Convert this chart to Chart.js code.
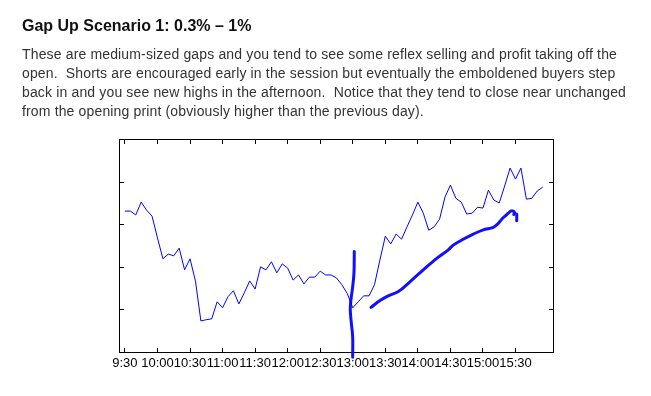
<!DOCTYPE html>
<html><head><meta charset="utf-8">
<script src="https://cdn.jsdelivr.net/npm/chart.js@4"></script>
<style>
html,body{margin:0;padding:0;background:#fff;width:651px;height:396px;overflow:hidden;}
#c{position:absolute;left:0;top:0;}
.h{position:absolute;left:22px;top:18px;font:bold 16px/16px "Liberation Sans",Arial,sans-serif;color:#111;white-space:pre;}
.p{position:absolute;left:22px;top:44.5px;font:14px/19.3px "Liberation Sans",Arial,sans-serif;letter-spacing:0.15px;color:#333;white-space:pre;}
</style></head><body>
<canvas id="c" width="651" height="396"></canvas>
<div class="h">Gap Up Scenario 1: 0.3% – 1%</div>
<div class="p">These are medium-sized gaps and you tend to see some reflex selling and profit taking off the
open.  Shorts are encouraged early in the session but eventually the emboldened buyers step
back in and you see new highs in the afternoon.  Notice that they tend to close near unchanged
from the opening print (obviously higher than the previous day).</div>
<script>
const times = [
 "9:30","9:35","9:40","9:45","9:50","9:55",
 "10:00","10:05","10:10","10:15","10:20","10:25","10:30","10:35","10:40","10:45","10:50","10:55",
 "11:00","11:05","11:10","11:15","11:20","11:25","11:30","11:35","11:40","11:45","11:50","11:55",
 "12:00","12:05","12:10","12:15","12:20","12:25","12:30","12:35","12:40","12:45","12:50","12:55",
 "13:00","13:05","13:10","13:15","13:20","13:25","13:30","13:35","13:40","13:45","13:50","13:55",
 "14:00","14:05","14:10","14:15","14:20","14:25","14:30","14:35","14:40","14:45","14:50","14:55",
 "15:00","15:05","15:10","15:15","15:20","15:25","15:30","15:35","15:40","15:45","15:50","15:55"
];
const prices = [
 3.32,3.32,3.23,3.53,3.34,3.20,
 2.69,2.20,2.31,2.27,2.45,1.94,
 2.20,1.68,0.74,0.77,0.79,1.19,
 1.05,1.31,1.45,1.14,1.40,1.68,
 1.49,2.01,1.94,2.13,1.87,2.08,
 1.98,1.70,1.82,1.61,1.77,1.77,
 1.91,1.82,1.82,1.75,1.59,1.38,
 1.05,1.19,1.33,1.33,1.59,2.17,
 2.73,2.55,2.78,2.66,2.95,3.23,
 3.53,3.27,2.87,2.95,3.13,3.65,
 3.93,3.62,3.53,3.25,3.27,3.41,
 3.39,3.81,3.58,3.51,3.91,4.33,
 4.07,4.33,3.60,3.62,3.79,3.88
];
const xTickLabels = ["9:30","10:00","10:30","11:00","11:30","12:00","12:30","13:00","13:30","14:00","14:30","15:00","15:30"];
const yTickValues = [0,1,2,3,4,5];
const axisMinMinutes = -5, axisMaxMinutes = 395;

// hand-drawn annotation strokes (minutes after 9:30, value)
const gapMarkX = [211.4,211.1,209.9,208.1,207.7,208.4,209.9,209.9];
const gapMarkY = [2.37,1.87,1.54,1.19,1.00,0.76,0.37,-0.11];
const trendX = [226.8,235.1,242.7,252.0,262.7,278.1,287.4,298.0,302.6,310.4,321.1,330.3,339.5,344.1,347.3,351.2,353.3,355.6,357.9,359.1,358.4];
const trendY = [1.06,1.22,1.33,1.43,1.66,2.01,2.21,2.41,2.52,2.64,2.78,2.88,2.94,3.03,3.13,3.22,3.27,3.32,3.32,3.29,3.24];
const tickMarkX = [361.1,361.1];
const tickMarkY = [3.25,3.09];

function toMin(s){const p=s.split(':').map(Number);return p[0]*60+p[1]-570;}
const xTickMinutes = xTickLabels.map(toMin);
const pts = (xs,ys)=>xs.map((x,i)=>({x:x,y:ys[i]}));

const FONT = {family:'"Liberation Sans", Arial, sans-serif', size:13};
const gridOpt = {drawOnChartArea:false, drawTicks:true, tickLength:-4.5, color:'#000', lineWidth:1};
const borderOpt = {display:true, color:'#000', width:1};
const xTicksBuild = s => { s.ticks = xTickMinutes.map(v=>({value:v})); };
const yTicksBuild = s => { s.ticks = yTickValues.map(v=>({value:v})); };

const handStyle = {borderColor:'#1010ff', borderWidth:3, pointRadius:0, tension:0.35, clip:false, borderCapStyle:'round', borderJoinStyle:'round', fill:false};

new Chart(document.getElementById('c'), {
  type:'line',
  data:{datasets:[
    {data: times.map((t,i)=>({x:toMin(t), y:prices[i]})), borderColor:'#0000ff', borderWidth:1, pointRadius:0, tension:0, fill:false},
    Object.assign({data: pts(gapMarkX,gapMarkY)}, handStyle),
    Object.assign({data: pts(trendX,trendY)}, handStyle),
    Object.assign({data: pts(tickMarkX,tickMarkY)}, handStyle)
  ]},
  options:{
    responsive:false, animation:false, devicePixelRatio:1,
    layout:{padding:{left:119.5, right:97.5, top:139.5, bottom:13.5}},
    plugins:{legend:{display:false}, tooltip:{enabled:false}},
    scales:{
      x:{type:'linear', position:'bottom', min:axisMinMinutes, max:axisMaxMinutes,
         afterBuildTicks:xTicksBuild, afterFit:s=>{s.height=30;},
         ticks:{autoSkip:false, maxRotation:0, minRotation:0, padding:8, color:'#000', font:FONT,
                callback:(v,i)=>xTickLabels[i]},
         grid:gridOpt, border:borderOpt},
      x2:{type:'linear', position:'top', min:axisMinMinutes, max:axisMaxMinutes,
         afterBuildTicks:xTicksBuild, afterFit:s=>{s.height=0;},
         ticks:{display:false, autoSkip:false}, grid:gridOpt, border:borderOpt},
      y:{type:'linear', position:'left', min:0, max:5,
         afterBuildTicks:yTicksBuild, afterFit:s=>{s.width=0;},
         ticks:{display:false}, grid:gridOpt, border:borderOpt},
      y2:{type:'linear', position:'right', min:0, max:5,
         afterBuildTicks:yTicksBuild, afterFit:s=>{s.width=0;},
         ticks:{display:false}, grid:gridOpt, border:borderOpt}
    }
  }
});
</script>
</body></html>
